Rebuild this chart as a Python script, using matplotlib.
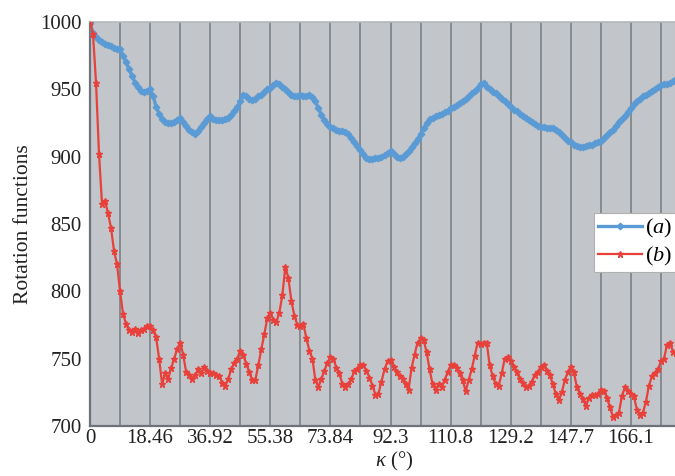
import numpy as np
import matplotlib
matplotlib.use("Agg")
import matplotlib.pyplot as plt

plt.rcParams["font.family"] = ["Liberation Serif", "DejaVu Serif"]
plt.rcParams["mathtext.fontset"] = "custom"
plt.rcParams["mathtext.rm"] = "Liberation Serif"
plt.rcParams["mathtext.it"] = "Liberation Serif:italic"

# rotation angle kappa sampled in 195 steps over 0..180 degrees
n_steps = 195
tick_labels = ["0", "18.46", "36.92", "55.38", "73.84", "92.3",
               "110.8", "129.2", "147.7", "166.1"]

series_a = [
    999, 992, 989, 987, 985, 984, 983, 982, 981, 980,
    980, 975, 970, 965, 960, 955, 952, 949, 948, 949,
    950, 945, 937, 932, 928, 926, 925, 925, 926, 927,
    929, 926, 923, 920, 918, 917, 919, 922, 925, 928,
    930, 928, 927, 927, 927, 928, 929, 931, 934, 937,
    941, 946, 945, 943, 942, 943, 945, 946, 948, 950,
    951, 953, 955, 954, 952, 950, 948, 946, 945, 945,
    946, 945, 945, 946, 944, 941, 936, 931, 927, 924,
    922, 921, 920, 919, 919, 918, 917, 914, 911, 908,
    905, 902, 899, 898, 898, 899, 899, 900, 901, 903,
    904, 902, 900, 899, 900, 902, 904, 907, 910, 913,
    917, 921, 925, 928, 929, 930, 931, 932, 933, 934,
    936, 937, 938, 940, 941, 943, 945, 947, 949, 951,
    954, 955, 952, 950, 948, 947, 945, 943, 941, 939,
    937, 935, 934, 932, 930, 929, 927, 926, 924, 923,
    922, 922, 921, 921, 921, 920, 918, 916, 914, 912,
    911, 909, 908, 907, 907, 908, 909, 909, 910, 911,
    912, 914, 916, 918, 920, 923, 926, 928, 930, 933,
    936, 939, 941, 943, 945, 946, 947, 949, 950, 952,
    953, 954, 954, 955, 956, 958,
]

series_b = [
    1000, 991, 955, 902, 865, 867, 858, 847, 830, 820,
    800, 783, 776, 771, 770, 772, 769, 771, 772, 774,
    774, 771, 766, 750, 731, 739, 735, 743, 750, 757,
    762, 753, 740, 738, 735, 738, 742, 739, 744, 741,
    739, 739, 738, 737, 732, 730, 735, 742, 747, 750,
    756, 753, 746, 740, 734, 734, 745, 757, 768, 780,
    784, 779, 777, 784, 797, 818, 810, 793, 782, 775,
    774, 776, 765, 756, 750, 734, 729, 735, 741, 747,
    751, 750, 743, 739, 731, 729, 731, 735, 741, 742,
    745, 745, 741, 736, 730, 723, 724, 733, 742, 748,
    749, 744, 740, 737, 735, 731, 727, 743, 753, 762,
    765, 764, 755, 742, 731, 727, 731, 729, 734, 740,
    745, 745, 743, 739, 734, 726, 734, 742, 752, 762,
    761, 762, 762, 745, 737, 731, 730, 739, 750, 751,
    748, 744, 740, 735, 732, 729, 730, 733, 738, 740,
    744, 745, 741, 738, 731, 724, 719, 725, 734, 740,
    744, 740, 729, 724, 720, 715, 721, 723, 723, 724,
    727, 726, 721, 714, 707, 708, 710, 722, 729, 726,
    724, 722, 712, 708, 710, 718, 730, 737, 739, 742,
    748, 750, 760, 762, 755, 754,
]

kappa = np.arange(len(series_a)) * 180.0 / n_steps

fig = plt.figure(figsize=(6.75, 4.76), dpi=100)
ax = fig.add_axes([90 / 675, 50 / 476, 586 / 675, 404 / 476])
ax.set_facecolor("#c2c6ca")

# vertical gridlines every 10 samples, labels every 20
grid_pos = np.arange(10, n_steps + 1, 10) * 180.0 / n_steps
for g in grid_pos:
    ax.axvline(g, color="#80878d", lw=1.3, zorder=1)

ax.plot(kappa, series_a, color="#5b9bd5", lw=2.4, marker="D", ms=3.3,
        mec="#5b9bd5", mfc="#5b9bd5", label="($a$)", zorder=3)
ax.plot(kappa, series_b, color="#e8403a", lw=1.6, marker="*", ms=5,
        mec="#e8403a", mfc="#e8403a", label="($b$)", zorder=4)

ax.set_xlim(0, 180)
ax.set_ylim(700, 1000)
ax.set_yticks(np.arange(700, 1001, 50))
ax.set_xticks(np.arange(0, 10) * 20 * 180.0 / n_steps)
ax.set_xticklabels(tick_labels)
ax.tick_params(axis="both", length=0, labelsize=15, colors="#222222")
ax.tick_params(axis="y", pad=6)
ax.tick_params(axis="x", pad=2)

for side in ("left", "bottom"):
    ax.spines[side].set_color("#6d7378")
    ax.spines[side].set_linewidth(1.6)
ax.spines["top"].set_color("#b5b8bb")
ax.spines["top"].set_linewidth(1.2)
ax.spines["right"].set_visible(False)

ax.set_ylabel("Rotation functions", fontsize=15.5, color="#222222", va="center")
ax.yaxis.set_label_coords(-66 / 586, 0.5)
ax.set_xlabel(r"$\kappa$ (°)", fontsize=15, color="#222222", va="center")
ax.xaxis.set_label_coords(0.52, -35 / 404)

leg = ax.legend(loc="upper left", bbox_to_anchor=(594 / 675, 1 - 213 / 476),
                bbox_transform=fig.transFigure, frameon=True, fancybox=False,
                fontsize=16, handlelength=1.95, handletextpad=0.15,
                borderpad=0.2, labelspacing=0.2, borderaxespad=0)
leg.get_frame().set_facecolor("white")
leg.get_frame().set_edgecolor("#b0b0b0")
leg.get_frame().set_linewidth(0.8)
leg.get_frame().set_alpha(1)

fig.savefig("out.png", dpi=100)
